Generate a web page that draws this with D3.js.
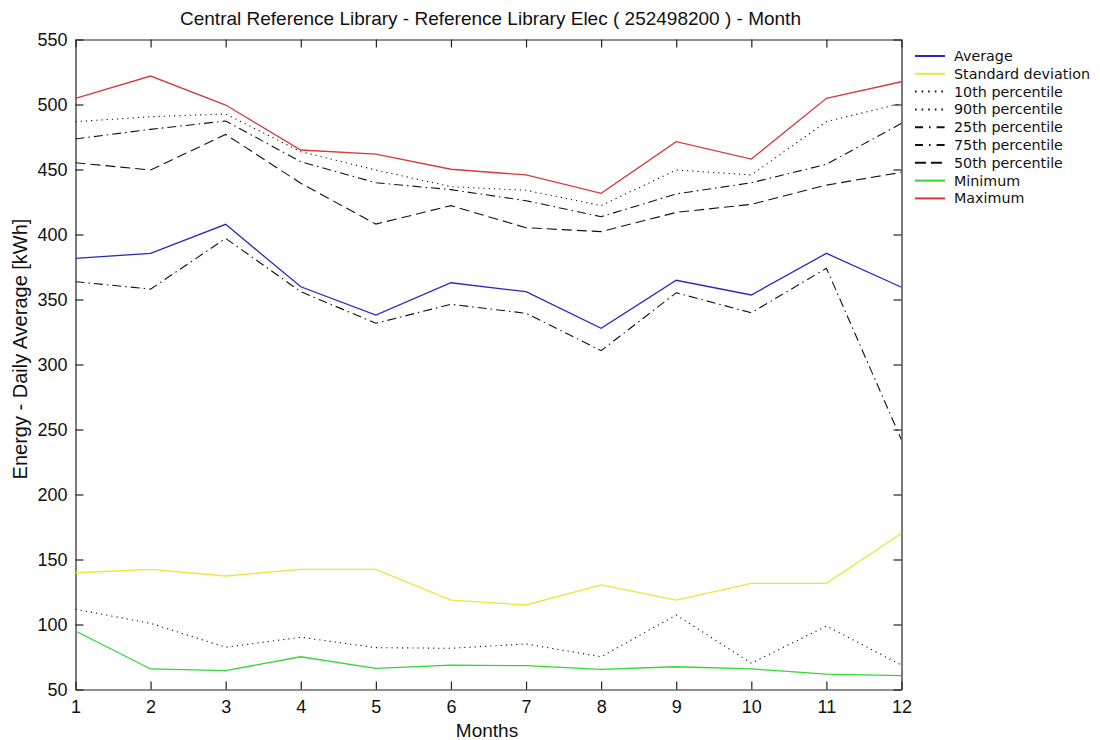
<!DOCTYPE html>
<html>
<head>
<meta charset="utf-8">
<script src="https://cdn.jsdelivr.net/npm/d3@7"></script>
<style>
  html, body { margin: 0; padding: 0; background: #fff; }
  svg { display: block; }
</style>
</head>
<body>
<svg id="chart" width="1100" height="740"></svg>
<script>
const months = [1,2,3,4,5,6,7,8,9,10,11,12];
const yTicks = [50,100,150,200,250,300,350,400,450,500,550];

const average = [381.7,385.5,407.8,359.8,338.0,362.9,356.0,327.8,364.8,353.5,385.5,359.4];
const stdDev  = [139.8,142.4,137.3,142.4,142.4,118.8,115.0,130.4,118.8,131.7,131.7,170.2];
const p10     = [111.7,100.9,82.5,90.2,82.2,81.7,85.0,75.2,107.3,70.2,98.8,68.8];
const p90     = [486.8,490.6,492.7,463.7,449.6,436.8,434.0,422.2,449.6,445.8,486.8,500.9];
const p25     = [363.7,358.0,397.0,356.0,331.7,346.3,339.4,310.6,355.2,339.8,374.0,242.0];
const p75     = [473.5,480.9,487.3,456.0,439.8,434.5,426.0,413.7,431.2,439.8,454.0,485.5];
const p50     = [455.2,449.6,477.0,439.4,408.0,422.2,405.2,402.2,417.0,423.2,438.0,447.8];
const minimum = [95.0,65.8,64.5,75.2,66.3,68.8,68.3,65.5,67.5,65.8,61.9,60.6];
const maximum = [504.8,521.9,499.6,465.0,461.9,450.2,445.8,431.7,471.4,458.0,504.8,517.5];

const seriesNames = ["Average","Standard deviation","10th percentile","90th percentile","25th percentile","75th percentile","50th percentile","Minimum","Maximum"];
const seriesValues = [average, stdDev, p10, p90, p25, p75, p50, minimum, maximum];
const seriesColors = ["#2828c0","#f2e23c","#111","#111","#111","#111","#111","#34d634","#d63a3a"];
const seriesDash = [null, null, "1.2,4", "1.2,4", "9,4,1.5,4", "9,4,1.5,4", "10,5", null, null];

const svg = d3.select("#chart");
const pLeft = 75.5, pRight = 901.5, pTop = 39.5, pBottom = 689.5;

const x = d3.scaleLinear().domain([1,12]).range([pLeft, pRight]);
const y = d3.scaleLinear().domain([50,550]).range([pBottom, pTop]);

// title
svg.append("text")
  .attr("x", (pLeft+pRight)/2 + 2).attr("y", 25)
  .attr("text-anchor","middle")
  .attr("font-family","'Liberation Sans Narrow','Liberation Sans',Arial,sans-serif")
  .attr("font-size", 19)
  .attr("fill","#111")
  .text("Central Reference Library - Reference Library Elec ( 252498200 ) - Month");

const tickFont = "'Liberation Sans',Arial,sans-serif";

// axes (inward ticks, mirrored)
const gB = svg.append("g").attr("transform",`translate(0,${pBottom})`)
  .call(d3.axisBottom(x).tickValues(months).tickFormat(d3.format("d")).tickSizeInner(-8).tickSizeOuter(0).tickPadding(11));
const gT = svg.append("g").attr("transform",`translate(0,${pTop})`)
  .call(d3.axisTop(x).tickValues(months).tickFormat("").tickSizeInner(-8).tickSizeOuter(0));
const gL = svg.append("g").attr("transform",`translate(${pLeft},0)`)
  .call(d3.axisLeft(y).tickValues(yTicks).tickFormat(d3.format("d")).tickSizeInner(-8).tickSizeOuter(0).tickPadding(8));
const gR = svg.append("g").attr("transform",`translate(${pRight},0)`)
  .call(d3.axisRight(y).tickValues(yTicks).tickFormat("").tickSizeInner(-8).tickSizeOuter(0));

[gB,gT,gL,gR].forEach(g => {
  g.select(".domain").attr("stroke","#222").attr("stroke-width",1.2);
  g.selectAll(".tick line").attr("stroke","#222").attr("stroke-width",1.2);
  g.selectAll(".tick text").attr("font-family",tickFont).attr("font-size",18).attr("fill","#111");
});

// axis labels
svg.append("text")
  .attr("x", 487).attr("y", 737)
  .attr("text-anchor","middle")
  .attr("font-family",tickFont).attr("font-size",19).attr("fill","#111")
  .text("Months");
svg.append("text")
  .attr("transform", `translate(27,349) rotate(-90)`)
  .attr("text-anchor","middle")
  .attr("font-family",tickFont).attr("font-size",20).attr("fill","#111")
  .text("Energy - Daily Average [kWh]");

// lines
const line = d3.line().x((d,i) => x(months[i])).y(d => y(d));
svg.append("clipPath").attr("id","plotclip")
  .append("rect").attr("x",pLeft).attr("y",pTop).attr("width",pRight-pLeft).attr("height",pBottom-pTop);
const plot = svg.append("g").attr("clip-path","url(#plotclip)");
seriesValues.forEach((vals, k) => {
  plot.append("path")
    .datum(vals)
    .attr("d", line)
    .attr("fill","none")
    .attr("stroke", seriesColors[k])
    .attr("stroke-width", k>=2 && k<=6 ? 1.1 : 1.3)
    .attr("stroke-dasharray", seriesDash[k]);
});

// legend
const leg = svg.append("g");
const legY0 = 56, legDy = 17.8;
seriesNames.forEach((name, k) => {
  const yy = legY0 + k*legDy;
  leg.append("line")
    .attr("x1", 915).attr("x2", 945).attr("y1", yy).attr("y2", yy)
    .attr("stroke", seriesColors[k])
    .attr("stroke-width", 2)
    .attr("stroke-dasharray", seriesDash[k] ? (k<=3 ? "1.6,5" : (k<=5 ? "8,6,1.6,6" : "11,5")) : null);
  leg.append("text")
    .attr("x", 954).attr("y", yy + 5)
    .attr("font-family","'DejaVu Sans',sans-serif")
    .attr("font-size", 14.3)
    .attr("fill","#111")
    .text(name);
});
</script>
</body>
</html>
